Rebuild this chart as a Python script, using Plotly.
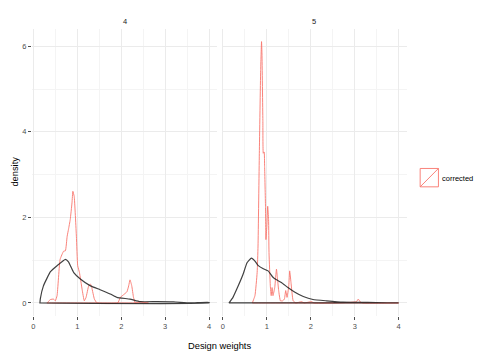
import plotly.graph_objects as go

# ---- data ----
facets = ["4", "5"]
legend_label = "corrected"

# facet 4, uncorrected (black) density
f4_black_x = [0.15, 0.16, 0.23, 0.39, 0.54, 0.73, 0.80, 0.92, 1.07, 1.30, 1.52, 1.75, 1.90, 2.20, 2.43, 2.81, 3.19, 3.57, 4.00]
f4_black_y = [0.00, 0.10, 0.40, 0.73, 0.87, 1.02, 0.96, 0.71, 0.56, 0.40, 0.31, 0.21, 0.13, 0.09, 0.03, 0.03, 0.025, 0.00, 0.015]

# facet 4, corrected (red) density
f4_red_x = [0.31, 0.39, 0.46, 0.50, 0.54, 0.61, 0.69, 0.73, 0.77, 0.80, 0.84, 0.88, 0.90, 0.93, 0.98, 1.01, 1.05, 1.11, 1.16, 1.20, 1.26, 1.30, 1.33, 1.39, 1.45, 1.92, 1.98, 2.05, 2.13, 2.17, 2.20, 2.24, 2.28, 2.32, 2.43, 2.52, 2.62]
f4_red_y = [0.00, 0.08, 0.09, 0.05, 0.17, 1.02, 1.21, 1.22, 1.56, 1.72, 1.95, 2.34, 2.61, 2.49, 1.56, 0.87, 0.71, 0.32, 0.05, 0.13, 0.40, 0.44, 0.36, 0.09, 0.00, 0.00, 0.13, 0.19, 0.26, 0.40, 0.54, 0.40, 0.13, 0.00, 0.03, 0.01, 0.00]

# facet 5, uncorrected (black) density
f5_black_x = [0.14, 0.23, 0.35, 0.46, 0.55, 0.65, 0.73, 0.80, 0.92, 1.03, 1.14, 1.22, 1.33, 1.48, 1.64, 1.83, 2.05, 2.36, 2.73, 3.11, 3.49, 4.00]
f5_black_y = [0.00, 0.13, 0.40, 0.67, 0.94, 1.05, 0.98, 0.88, 0.80, 0.75, 0.60, 0.54, 0.48, 0.36, 0.25, 0.15, 0.08, 0.05, 0.02, 0.015, 0.01, 0.00]

# facet 5, corrected (red) density
f5_red_x = [0.67, 0.73, 0.78, 0.80, 0.83, 0.86, 0.88, 0.89, 0.91, 0.92, 0.94, 0.95, 0.97, 0.98, 1.00, 1.02, 1.04, 1.05, 1.08, 1.10, 1.12, 1.14, 1.18, 1.22, 1.24, 1.27, 1.31, 1.36, 1.40, 1.43, 1.46, 1.50, 1.52, 1.55, 1.60, 1.66, 1.79, 1.85, 2.02, 2.07, 3.04, 3.08, 3.13, 3.19, 4.00]
f5_red_y = [0.00, 0.17, 0.71, 1.33, 3.50, 5.43, 6.11, 5.82, 4.27, 3.50, 3.53, 3.19, 2.26, 1.48, 1.79, 2.26, 1.95, 1.18, 0.40, 0.17, 0.36, 0.17, 0.36, 0.79, 0.60, 0.29, 0.05, 0.05, 0.09, 0.29, 0.13, 0.40, 0.75, 0.48, 0.05, 0.00, 0.03, 0.00, 0.03, 0.00, 0.03, 0.09, 0.02, 0.00, 0.00]

x_ticks = [0, 1, 2, 3, 4]
y_ticks = [0, 2, 4, 6]

RED = "rgba(248,118,109,0.9)"
BLACK = "rgba(30,30,30,0.85)"

fig = go.Figure()

def outline(xs, ys):
    # density outline closed along the baseline, like a density polygon
    return list(xs) + [xs[-1], xs[0], xs[0]], list(ys) + [0, 0, ys[0]]

series = [
    ("x", "y", f4_red_x, f4_red_y, RED, 1.0),
    ("x", "y", f4_black_x, f4_black_y, BLACK, 1.2),
    ("x2", "y2", f5_red_x, f5_red_y, RED, 1.0),
    ("x2", "y2", f5_black_x, f5_black_y, BLACK, 1.2),
]
for xa, ya, xs, ys, col, w in series:
    px, py = outline(xs, ys)
    fig.add_trace(go.Scatter(x=px, y=py, mode="lines", xaxis=xa, yaxis=ya,
                             line=dict(color=col, width=w, shape="spline", smoothing=0.4),
                             showlegend=False, hoverinfo="skip"))

grid_major = "#EBEBEB"
grid_minor = "#F4F4F4"
tickfont = dict(family="Liberation Sans, Arial, sans-serif", size=7.5, color="#4D4D4D")

xcommon = dict(range=[-0.03, 4.19], tickvals=x_ticks, ticktext=[str(t) for t in x_ticks],
               showgrid=True, gridcolor=grid_major, gridwidth=0.8, zeroline=False,
               showline=False, ticks="outside", ticklen=3, tickcolor="#4D4D4D",
               tickwidth=0.8, tickfont=tickfont,
               minor=dict(tickvals=[0.5, 1.5, 2.5, 3.5], showgrid=True,
                          gridcolor=grid_minor, gridwidth=0.5, ticks=""))
ycommon = dict(range=[-0.305, 6.405], tickvals=y_ticks, ticktext=[str(t) for t in y_ticks],
               showgrid=True, gridcolor=grid_major, gridwidth=0.8, zeroline=False,
               showline=False, ticklen=3, tickcolor="#4D4D4D", tickwidth=0.8,
               tickfont=tickfont,
               minor=dict(tickvals=[1, 3, 5], showgrid=True,
                          gridcolor=grid_minor, gridwidth=0.5, ticks=""))

L, R, T, B = 31.6, 407.5, 28.7, 316.0
W, H = 500, 360
pw = R - L
fig.update_layout(
    width=W, height=H,
    margin=dict(l=L, r=W - R, t=T, b=H - B, pad=0),
    paper_bgcolor="white", plot_bgcolor="white",
    showlegend=False,
    xaxis=dict(domain=[0, (217.5 - L) / pw], anchor="y", **xcommon),
    xaxis2=dict(domain=[(221.6 - L) / pw, 1], anchor="y2", **xcommon),
    yaxis=dict(domain=[0, 1], anchor="x", ticks="outside", **ycommon),
    yaxis2=dict(domain=[0, 1], anchor="x2", ticks="", showticklabels=False, **ycommon),
)

def px2paper_x(p):
    return (p - L) / pw

def px2paper_y(p):
    return (B - p) / (B - T)

anns = [
    dict(text=facets[0], x=px2paper_x(124.5), y=px2paper_y(21.0)),
    dict(text=facets[1], x=px2paper_x(314.5), y=px2paper_y(21.0)),
]
for a in anns:
    fig.add_annotation(xref="paper", yref="paper", showarrow=False, xanchor="center", yanchor="middle",
                       font=dict(family="Liberation Sans, Arial, sans-serif", size=7.5, color="#1A1A1A"), **a)

fig.add_annotation(text="Design weights", xref="paper", yref="paper", x=px2paper_x(219.5), y=px2paper_y(346),
                   showarrow=False, xanchor="center", yanchor="middle",
                   font=dict(family="Liberation Sans, Arial, sans-serif", size=9.3, color="black"))
fig.add_annotation(text="density", xref="paper", yref="paper", x=px2paper_x(15), y=px2paper_y(171),
                   showarrow=False, xanchor="center", yanchor="middle", textangle=-90,
                   font=dict(family="Liberation Sans, Arial, sans-serif", size=9.3, color="black"))

# legend key (box with diagonal) and label
kx0, kx1, ky0, ky1 = 420.7, 439.0, 168.3, 186.7
fig.add_shape(type="rect", xref="paper", yref="paper",
              x0=px2paper_x(kx0), x1=px2paper_x(kx1), y0=px2paper_y(ky1), y1=px2paper_y(ky0),
              line=dict(color=RED, width=1), fillcolor="rgba(0,0,0,0)")
fig.add_shape(type="line", xref="paper", yref="paper",
              x0=px2paper_x(kx0), x1=px2paper_x(kx1), y0=px2paper_y(ky1), y1=px2paper_y(ky0),
              line=dict(color=RED, width=1))
fig.add_annotation(text=legend_label, xref="paper", yref="paper", x=px2paper_x(441), y=px2paper_y(178.5),
                   showarrow=False, xanchor="left", yanchor="middle",
                   font=dict(family="Liberation Sans, Arial, sans-serif", size=7.5, color="black"))

fig.write_html("out.html", config={"displayModeBar": False},
               post_script="document.body.style.margin='0';document.body.style.padding='0';")
